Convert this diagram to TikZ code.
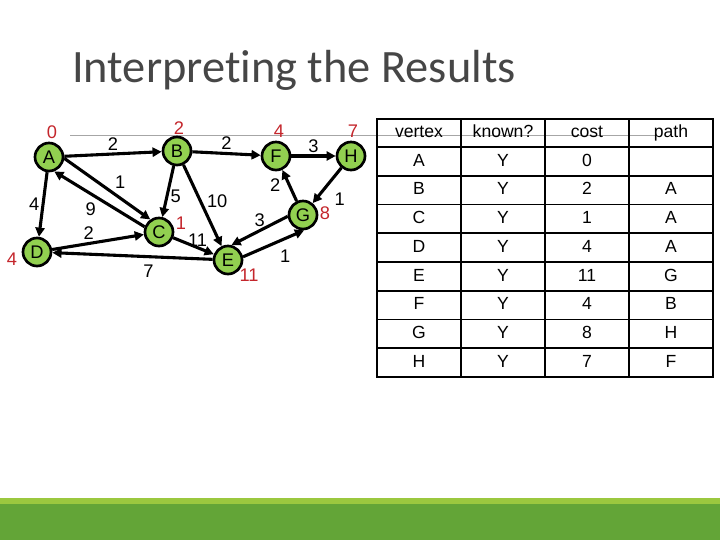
\documentclass[tikz,border=0pt]{standalone}
\usepackage{fontspec}
\setmainfont{Liberation Sans}
\newfontfamily\titlefont[Ligatures=NoCommon]{Carlito}
\usetikzlibrary{arrows.meta, positioning}

\definecolor{nodegreen}{RGB}{146,208,80}
\definecolor{distred}{RGB}{196,38,44}
\definecolor{titlegray}{RGB}{70,70,70}
\definecolor{barlight}{RGB}{155,200,63}
\definecolor{bardark}{RGB}{99,165,55}

\begin{document}
\begin{tikzpicture}[
    x=0.025cm, y=-0.025cm,
    vnode/.style={circle, draw=black, line width=1.9pt, fill=nodegreen, minimum size=0.7cm, inner sep=0pt, font=\fontsize{13}{13}\selectfont},
    dist/.style={text=distred, inner sep=0pt, font=\fontsize{13}{13}\selectfont},
    wt/.style={inner sep=1.5pt, font=\fontsize{13}{13}\selectfont},
    arrow/.style={-{Triangle[length=6.5pt, width=6.5pt]}, line width=2.2pt},
    cell/.style={inner sep=0pt, text height=1.55ex, text depth=0.35ex, font=\fontsize{12.5}{12.5}\selectfont}
]
\useasboundingbox (0,0) rectangle (720,540);

% Title and rule
\draw[gray!70, line width=0.7pt] (70,135) -- (655,135);
\node[anchor=base west, inner sep=0pt, text=titlegray, font=\titlefont\fontsize{33}{33}\selectfont] (title) at (72,82) {Interpreting the Results};

% Nodes
\node[vnode] (A) at (49,157) {A};
\node[vnode] (B) at (177,151) {B};
\node[vnode] (C) at (159,232) {C};
\node[vnode] (D) at (37,252) {D};
\node[vnode] (E) at (228,260) {E};
\node[vnode] (F) at (276,156) {F};
\node[vnode] (G) at (303,215) {G};
\node[vnode] (H) at (351,156) {H};

% Costs
\node[dist] (dA) at (52,132) {0};
\node[dist] (dB) at (179,128) {2};
\node[dist] (dC) at (181,223) {1};
\node[dist] (dD) at (12,259) {4};
\node[dist] (dE) at (249,275) {11};
\node[dist] (dF) at (279,131) {4};
\node[dist] (dG) at (325,213) {8};
\node[dist] (dH) at (353,131) {7};

% Arrows
\draw[arrow] (A) -- (B) node[wt, midway, above] {2};
\draw[arrow] (A.-5) -- (C.125) node[wt, pos=0.55, above right] {1};
\draw[arrow] (C.160) -- (A.-70) node[wt, midway, below left] {9};
\draw[arrow] (A) -- (D) node[wt, midway, left] {4};
\draw[arrow] (D) -- (C) node[wt, pos=0.4, above] {2};
\draw[arrow] (E) -- (D) node[wt, pos=0.4, below=3pt] {7};
\draw[arrow] (B) -- (C) node[wt, pos=0.6, right] {5};
\draw[arrow] (B) -- (E) node[wt, pos=0.45, right=2pt] {10};
\draw[arrow] (C) -- (E) node[wt, pos=0.6, above, inner sep=0pt] {11};
\draw[arrow] (B) -- (F) node[wt, midway, above] {2};
\draw[arrow] (F) -- (H) node[wt, midway, above, inner sep=1pt] {3};
\draw[arrow] (H) -- (G) node[wt, midway, below right=4pt] {1};
\draw[arrow] (G) -- (F) node[wt, midway, left=4pt] {2};
\draw[arrow] (G.185) -- (E.77) node[wt, midway, above] {3};
\draw[arrow] (E.12) -- (G.-86) node[wt, midway, below right=3pt] {1};

% Table
\foreach \k in {0,...,7}
  \draw[line width=1.4pt] (377,{147+28.75*\k}) -- (713,{147+28.75*\k});
\foreach \xx in {461,545,629}
  \draw[line width=1.4pt] (\xx,119) -- (\xx,377);
\draw[line width=2pt] (377,119) rectangle (713,377);
\foreach \yy/\row [count=\r] in {133/{vertex,known?,cost,path}, 162/{A,Y,0,{}}, 190/{B,Y,2,A},
    219/{C,Y,1,A}, 248/{D,Y,4,A}, 277/{E,Y,11,G}, 305/{F,Y,4,B}, 334/{G,Y,8,H}, 363/{H,Y,7,F}}
  \foreach \txt [count=\c] in \row
    \node[cell] (cell-\r-\c) at ({335+84*\c},\yy) {\txt};

% Footer bar
\fill[barlight] (0,498) rectangle (720,504);
\fill[bardark] (0,504) rectangle (720,540);

\end{tikzpicture}
\end{document}
